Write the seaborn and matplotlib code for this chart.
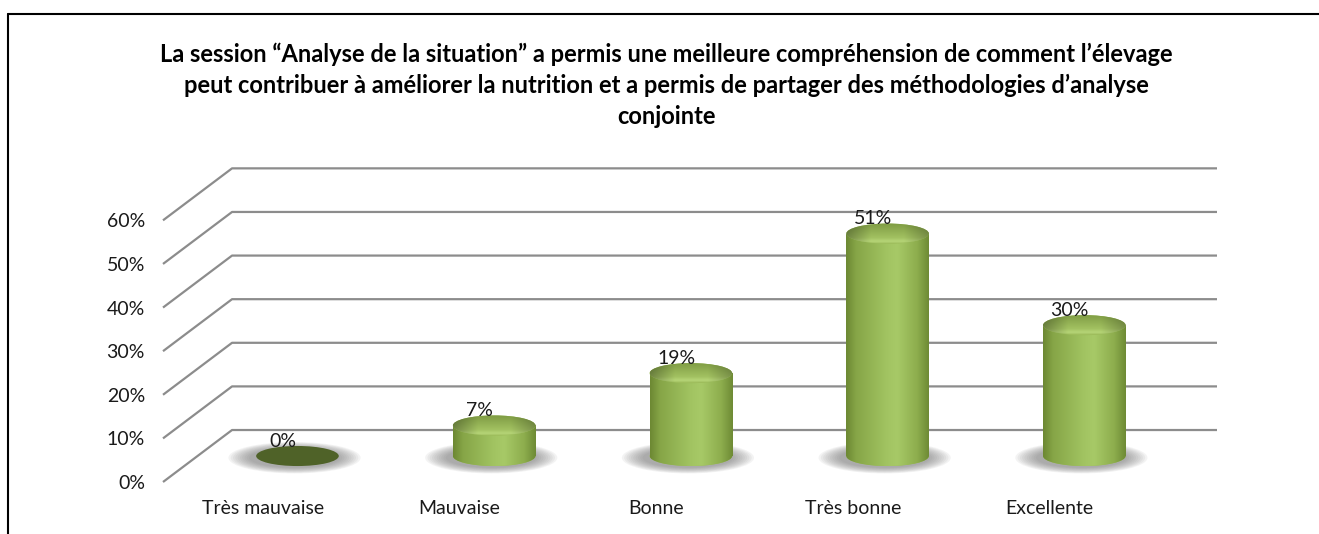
import numpy as np
import pandas as pd
import matplotlib
matplotlib.use("Agg")
import matplotlib.pyplot as plt
from matplotlib.patches import Ellipse
from matplotlib.colors import LinearSegmentedColormap
from matplotlib.lines import Line2D
import seaborn as sns

# data
categories = ["Très mauvaise", "Mauvaise", "Bonne", "Très bonne", "Excellente"]
values = [0, 7, 19, 51, 30]
value_labels = ["0%", "7%", "19%", "51%", "30%"]
yticks = [0, 10, 20, 30, 40, 50, 60]
ytick_labels = ["0%", "10%", "20%", "30%", "40%", "50%", "60%"]
title_lines = [
    "La session “Analyse de la situation” a permis une meilleure compréhension de comment l’élevage",
    "peut contribuer à améliorer la nutrition et a permis de partager des méthodologies d’analyse",
    "conjointe",
]

df = pd.DataFrame({"categorie": categories, "pourcentage": values})

sns.set_theme(style="white")
plt.rcParams["font.family"] = ["Lato", "DejaVu Sans"]

W, H = 1319, 534
fig = plt.figure(figsize=(W / 100, H / 100), dpi=100)
# axes box: front-left floor corner to back-right top of the wall
ax = fig.add_axes([163 / W, (H - 482) / H, (1217 - 163) / W, (482 - 168) / H])

# oblique "3D" offset from front to back wall, in data units
DX, DY = 0.351, 11.92
X_LEFT, X_RIGHT = -0.508, 4.85
RY = 2.3            # half height of the cylinder caps (in %)
GRID = "#8C8C8C"
FS = 14

# cylinder bodies
sns.barplot(data=df, x="categorie", y="pourcentage", width=0.42,
            color="#9BBB59", linewidth=0, ax=ax, zorder=3)

# back wall + side wall grid
for t in yticks:
    ax.plot([X_LEFT, X_LEFT + DX, X_RIGHT], [t, t + DY, t + DY],
            color=GRID, lw=1.6, zorder=1, clip_on=False, solid_capstyle="butt")


def make_img(stops, n=256):
    cm = LinearSegmentedColormap.from_list("c", stops)
    return cm(np.linspace(0, 1, n))[:, :3]


body_row = make_img([(0, "#6C8833"), (0.12, "#86A547"), (0.5, "#A2C462"),
                     (0.62, "#A7C967"), (0.86, "#8DAD4D"), (1, "#6E8A35")])
body_img = body_row[np.newaxis, :, :]

# top cap: light front rim, darker towards the back, darker on the sides
cap_v = make_img([(0, "#9BBB59"), (0.12, "#B6D577"), (0.3, "#A2C161"),
                  (1, "#7E9B43")], 64)
cap_h = make_img([(0, "#B0B0B0"), (0.3, "#FFFFFF"), (0.7, "#FFFFFF"),
                  (1, "#C0C0C0")], 128)
cap_img = cap_v[:, np.newaxis, :] * cap_h[np.newaxis, :, :]

for p, v, lab in zip(ax.patches, values, value_labels):
    x0, w = p.get_x(), p.get_width()
    cx = x0 + w / 2 + DX / 2
    yb = DY / 2
    p.set_x(x0 + DX / 2)
    p.set_y(yb)

    # soft shadow around the base
    for k in range(10):
        f = k / 9
        sh = Ellipse((cx - 0.015, yb - 0.4), w * (1.6 - 0.5 * f), 7.2 - 2.6 * f,
                     facecolor="#6A6A6A", edgecolor="none", alpha=0.075, zorder=2)
        ax.add_patch(sh)

    if v == 0:
        ax.add_patch(Ellipse((cx, yb), w, 2 * RY, facecolor="#4F6228",
                             edgecolor="none", zorder=4))
        p.set_visible(False)
    else:
        im = ax.imshow(body_img, extent=[cx - w / 2, cx + w / 2, yb, yb + v],
                       aspect="auto", origin="lower", zorder=4, interpolation="bilinear")
        im.set_clip_path(p)
        bot = Ellipse((cx, yb), w, 2 * RY, facecolor="#9BBB59", edgecolor="none", zorder=3)
        ax.add_patch(bot)
        im2 = ax.imshow(body_img, extent=[cx - w / 2, cx + w / 2, yb - RY, yb],
                        aspect="auto", origin="lower", zorder=4, interpolation="bilinear")
        im2.set_clip_path(bot)
        top = Ellipse((cx, yb + v), w, 2 * RY, facecolor="#9BBB59", edgecolor="none", zorder=5)
        ax.add_patch(top)
        im3 = ax.imshow(cap_img, extent=[cx - w / 2, cx + w / 2, yb + v - RY, yb + v + RY],
                        aspect="auto", origin="lower", zorder=5, interpolation="bilinear")
        im3.set_clip_path(top)

    ax.text(cx - 0.075, yb + v + 3.4, lab, ha="center", va="center",
            fontsize=FS, color="#1a1a1a", zorder=6)

ax.set_xlim(X_LEFT, X_RIGHT)
ax.set_ylim(0, 72)
ax.set_yticks(yticks)
ax.set_yticklabels(ytick_labels)
ax.tick_params(axis="y", length=0, pad=13, labelsize=FS, labelcolor="#1a1a1a")
ax.tick_params(axis="x", length=0, pad=13, labelsize=FS, labelcolor="#1a1a1a")
ax.set_xlabel("")
ax.set_ylabel("")
for s in ax.spines.values():
    s.set_visible(False)
ax.patch.set_alpha(0)

# title
for line, y in zip(title_lines, [54, 85, 116]):
    fig.text(666 / W, 1 - y / H, line, ha="center", va="center",
             fontsize=17, fontweight="bold", color="#000000")

# chart frame (top and left edges visible)
fig.add_artist(Line2D([8 / W, 8 / W], [0, 1 - 14 / H], color="black", lw=1.5))
fig.add_artist(Line2D([8 / W, 1], [1 - 14 / H, 1 - 14 / H], color="black", lw=1.5))

fig.savefig("out.png", dpi=100)
